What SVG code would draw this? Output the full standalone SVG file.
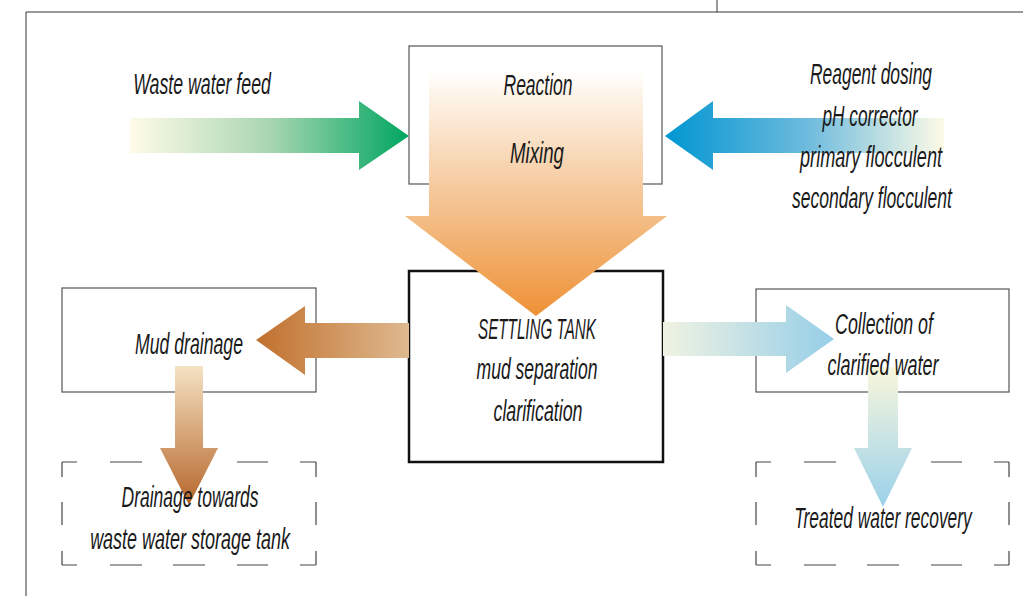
<svg xmlns="http://www.w3.org/2000/svg" width="1023" height="596" viewBox="0 0 1023 596">
<defs>
<style>
.box{fill:#fff;stroke:#555;stroke-width:1.2}
.tank{fill:#fff;stroke:#111;stroke-width:2.5}
.dash{fill:none;stroke:#444;stroke-width:1.2}
.frame{fill:none;stroke:#333;stroke-width:1}
text{font-family:"Liberation Sans",Arial,sans-serif;font-style:italic;font-size:29px;fill:#1a1a1a;text-anchor:middle}
</style>
<linearGradient id="gGreen" gradientUnits="userSpaceOnUse" x1="130" y1="0" x2="409" y2="0">
<stop offset="0" stop-color="#fffbe8"/><stop offset="0.5" stop-color="#a9d6b2"/><stop offset="1" stop-color="#00a661"/>
</linearGradient>
<linearGradient id="gBlue" gradientUnits="userSpaceOnUse" x1="665" y1="0" x2="944" y2="0">
<stop offset="0" stop-color="#0096d1"/><stop offset="0.5" stop-color="#6bbadd"/><stop offset="1" stop-color="#fdfbe6"/>
</linearGradient>
<linearGradient id="gOrange" gradientUnits="userSpaceOnUse" x1="0" y1="73" x2="0" y2="316">
<stop offset="0" stop-color="#fffefb"/><stop offset="0.6" stop-color="#f3bc85"/><stop offset="1" stop-color="#ef9135"/>
</linearGradient>
<linearGradient id="gBrownL" gradientUnits="userSpaceOnUse" x1="256" y1="0" x2="409" y2="0">
<stop offset="0" stop-color="#c1702d"/><stop offset="1" stop-color="#deb98f"/>
</linearGradient>
<linearGradient id="gBrownD" gradientUnits="userSpaceOnUse" x1="0" y1="366" x2="0" y2="505">
<stop offset="0" stop-color="#f4e2c4"/><stop offset="1" stop-color="#b6662a"/>
</linearGradient>
<linearGradient id="gLBlueR" gradientUnits="userSpaceOnUse" x1="663" y1="0" x2="834" y2="0">
<stop offset="0" stop-color="#f0f3e2"/><stop offset="1" stop-color="#96cee8"/>
</linearGradient>
<linearGradient id="gLBlueD" gradientUnits="userSpaceOnUse" x1="0" y1="367" x2="0" y2="507">
<stop offset="0" stop-color="#f9f7dc"/><stop offset="1" stop-color="#9ad1ea"/>
</linearGradient>
</defs>
<rect width="1023" height="596" fill="#fff"/>
<path class="frame" d="M26 596V12H1023M717 0V12"/>

<g id="node-reaction"><rect class="box" x="409" y="46" width="253" height="138"/></g>
<g id="node-settling-tank"><rect class="tank" x="409" y="271" width="254" height="191"/></g>
<g id="node-mud-drainage"><rect class="box" x="62" y="288" width="254" height="104"/></g>
<g id="node-collection"><rect class="box" x="756" y="289" width="253" height="103"/></g>
<g id="node-drainage-storage"><path class="dash" d="M62 462H77M110 462H142M173 462H205M237 462H268M300 462H316M62 565H77M110 565H142M173 565H205M237 565H268M300 565H316M62 462V477M62 502V525M62 551V565M316 462V477M316 502V525M316 551V565"/></g>
<g id="node-treated-recovery"><path class="dash" d="M756 462H771M804 462H836M867 462H899M931 462H962M994 462H1009M756 565H771M804 565H836M867 565H899M931 565H962M994 565H1009M756 462V477M756 502V525M756 551V565M1009 462V477M1009 502V525M1009 551V565"/></g>

<g id="connectors">
<path fill="url(#gGreen)" d="M130 118H359V101L409 136L359 170V153H130Z"/>
<path fill="url(#gBlue)" d="M944 118H713V101L665 136L713 170V153H944Z"/>
<path fill="url(#gOrange)" d="M429 73H643V216H667L536 316L405 216H429Z"/>
<path fill="url(#gBrownL)" d="M409 323H305V306L256 340L305 375V358H409Z"/>
<path fill="url(#gBrownD)" d="M175 366H203V448H218L189 505L160 448H175Z"/>
<path fill="url(#gLBlueR)" d="M663 322H786V305L834 339L786 373V356H663Z"/>
<path fill="url(#gLBlueD)" d="M868 367H898V448H912L883 507L854 448H868Z"/>
</g>

<g id="label-waste-feed"><text transform="translate(202 94) scale(0.612 1)">Waste water feed</text></g>
<g id="label-reagent">
<text transform="translate(871 84) scale(0.601 1)">Reagent dosing</text>
<text transform="translate(870 126) scale(0.596 1)">pH corrector</text>
<text transform="translate(871 167) scale(0.625 1)">primary flocculent</text>
<text transform="translate(872 208) scale(0.605 1)">secondary flocculent</text>
</g>
<g id="label-reaction">
<text transform="translate(538 95) scale(0.603 1)">Reaction</text>
<text transform="translate(537 163) scale(0.644 1)">Mixing</text>
</g>
<g id="label-settling-tank">
<text transform="translate(537 339) scale(0.524 1)">SETTLING TANK</text>
<text transform="translate(537 379) scale(0.605 1)">mud separation</text>
<text transform="translate(538 421) scale(0.614 1)">clarification</text>
</g>
<g id="label-mud-drainage"><text transform="translate(189 354) scale(0.609 1)">Mud drainage</text></g>
<g id="label-collection">
<text transform="translate(884 334) scale(0.614 1)">Collection of</text>
<text transform="translate(883 375) scale(0.62 1)">clarified water</text>
</g>
<g id="label-drainage-storage">
<text transform="translate(190 507) scale(0.603 1)">Drainage towards</text>
<text transform="translate(190 549) scale(0.62 1)">waste water storage tank</text>
</g>
<g id="label-treated-recovery"><text transform="translate(883 528) scale(0.6 1)">Treated water recovery</text></g>
</svg>
